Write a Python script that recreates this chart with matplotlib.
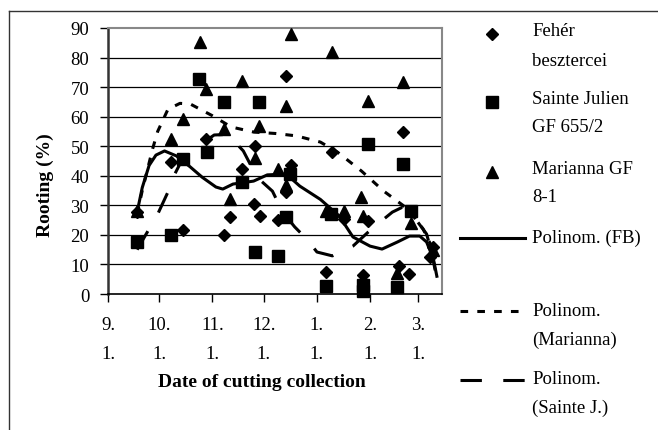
import numpy as np
import matplotlib
matplotlib.use("Agg")
import matplotlib.pyplot as plt
from matplotlib.lines import Line2D

plt.rcParams['font.family'] = ['Liberation Serif', 'DejaVu Serif']

# days counted from 1 September
feher_days = [17, 37, 44, 57, 68, 71, 78, 85, 86, 89, 99, 104, 104, 107, 127, 131, 138, 149, 152, 170, 172, 176, 188, 190]
feher_vals = [27.7, 44.6, 21.6, 52.4, 20, 26, 42.3, 30.4, 50, 26.4, 25, 34.5, 73.7, 43.6, 7.6, 48, 25.5, 6.5, 24.7, 9.5, 54.8, 6.8, 12.5, 16]

sainte_days = [17, 37, 44, 53, 58, 68, 78, 86, 88, 99, 104, 106, 127, 130, 149, 149, 152, 169, 172, 177]
sainte_vals = [17.6, 20, 45.7, 72.7, 48, 65, 37.9, 14.2, 65, 12.9, 26, 40.6, 2.7, 27, 3, 1, 50.7, 2.4, 44, 28]

marianna_days = [17, 37, 44, 54, 57, 68, 71, 78, 86, 88, 99, 104, 104, 107, 127, 131, 138, 148, 149, 152, 169, 172, 177, 190]
marianna_vals = [28, 52.4, 59.2, 85.3, 69.4, 55.8, 32, 72, 46, 56.8, 42.3, 37, 63.6, 88, 28, 81.9, 28, 32.8, 26.4, 65.3, 7, 71.7, 24, 15]

# trend lines
fb_days = [17, 20, 24, 28, 33, 40, 48, 55, 63, 67, 73, 85, 93, 104, 112, 124, 135, 143, 153, 160, 169, 176, 182, 186, 190, 192]
fb_vals = [27.7, 36, 43.5, 47, 48.4, 46.7, 43, 39.5, 36.2, 35.5, 37.2, 38.2, 40.3, 40.6, 36.5, 32, 26.4, 19.3, 16.2, 15.2, 17.6, 19.6, 19.6, 17.6, 11.8, 6]

mar_days = [17, 20, 23, 26, 29, 35, 42, 48, 61, 72, 85, 98, 110, 124, 134, 148, 161, 175, 184, 189]
mar_vals = [27, 35, 42, 49, 55, 62.5, 64.5, 64.3, 60.3, 56.5, 54.8, 54.3, 53.5, 51.4, 48, 41.6, 34.8, 28.8, 22, 16]

sj_days = [17, 20, 24, 29, 35, 39, 42, 47, 55, 62, 70, 79, 87, 96, 102, 109, 116, 122, 131, 143, 152, 159, 166, 172, 180, 186, 189, 191]
sj_vals = [15, 18, 22, 27, 34.5, 40.6, 44, 46, 51, 53.8, 54, 48.4, 39.5, 34.8, 27.7, 22.7, 18.6, 14.2, 12.9, 16.2, 21, 24.4, 27.7, 29.4, 25, 20.3, 14, 8]

tick_days = [0, 30, 61, 91, 122, 153, 181]
tick_labels = ["9.\n1.", "10.\n1.", "11.\n1.", "12.\n1.", "1.\n1.", "2.\n1.", "3.\n1."]

FS = 13.5

fig = plt.figure(figsize=(6.58, 4.31), dpi=100)
ax = fig.add_axes([108/658, 1 - 295/431, (442-108)/658, (295-29)/431])

ax.set_xlim(0, 195)
ax.set_ylim(0, 90)
ax.set_yticks(np.arange(0, 91, 10))
ax.set_xticks(tick_days)
ax.set_xticklabels(tick_labels, linespacing=1.95)
ax.tick_params(labelsize=FS, direction='out', length=5.5, width=1, colors='black')
ax.tick_params(axis='x', pad=10)
ax.tick_params(axis='y', pad=8)

for v in range(10, 90, 10):
    ax.axhline(v, color='black', lw=0.9, zorder=1)

for s in ['top', 'right']:
    ax.spines[s].set_color('#888888')
    ax.spines[s].set_linewidth(1.5)
ax.spines['left'].set_color('#333333')
ax.spines['left'].set_linewidth(1.8)
ax.spines['bottom'].set_color('black')
ax.spines['bottom'].set_linewidth(1.2)

ax.plot(fb_days, fb_vals, color='black', lw=2.2, zorder=3)
ax.plot(mar_days, mar_vals, color='black', lw=2.2, dashes=(2.5, 3), zorder=3)
ax.plot(sj_days, sj_vals, color='black', lw=2.2, dashes=(7, 7), zorder=3)

ax.plot(feher_days, feher_vals, 'D', color='black', ms=6.3, ls='none', zorder=4, clip_on=False)
ax.plot(sainte_days, sainte_vals, 's', color='black', ms=9, ls='none', zorder=4, clip_on=False)
ax.plot(marianna_days, marianna_vals, '^', color='black', ms=9, ls='none', zorder=4, clip_on=False)

fig.text(45/658, 1 - 185/431, "Rooting (%)", rotation=90, ha='center', va='center',
         fontsize=14, fontweight='bold')
fig.text(262/658, 1 - 383/431, "Date of cutting collection", ha='center', va='center',
         fontsize=14, fontweight='bold')

# outer chart frame
fig.add_artist(Line2D([9/658, 1], [1 - 12/431, 1 - 12/431], color='#333333', lw=1))
fig.add_artist(Line2D([9/658, 9/658], [1 - 12/431, 0], color='#333333', lw=1))

# legend
def fx(px):
    return px / 658

def fy(py):
    return 1 - py / 431

mx = 492
tx = 532
fig.add_artist(Line2D([fx(mx)], [fy(35)], marker='D', ms=6.3, color='black', ls='none'))
fig.add_artist(Line2D([fx(mx)], [fy(103)], marker='s', ms=9, color='black', ls='none'))
fig.add_artist(Line2D([fx(mx)], [fy(173)], marker='^', ms=9, color='black', ls='none'))
fig.add_artist(Line2D([fx(460), fx(525)], [fy(239), fy(239)], color='black', lw=2.2))
fig.add_artist(Line2D([fx(460), fx(525)], [fy(312), fy(312)], color='black', lw=2.2, dashes=(2.5, 3)))
fig.add_artist(Line2D([fx(460), fx(525)], [fy(381), fy(381)], color='black', lw=2.2, dashes=(7, 7)))

legend_lines = [
    ("Fehér", 32), ("besztercei", 62),
    ("Sainte Julien", 100), ("GF 655/2", 128),
    ("Marianna GF", 170), ("8-1", 198),
    ("Polinom. (FB)", 238),
    ("Polinom.", 312), ("(Marianna)", 340),
    ("Polinom.", 380), ("(Sainte J.)", 408),
]
for txt, py in legend_lines:
    fig.text(fx(tx), fy(py), txt, ha='left', va='center', fontsize=FS)

fig.savefig("out.png", dpi=100)
